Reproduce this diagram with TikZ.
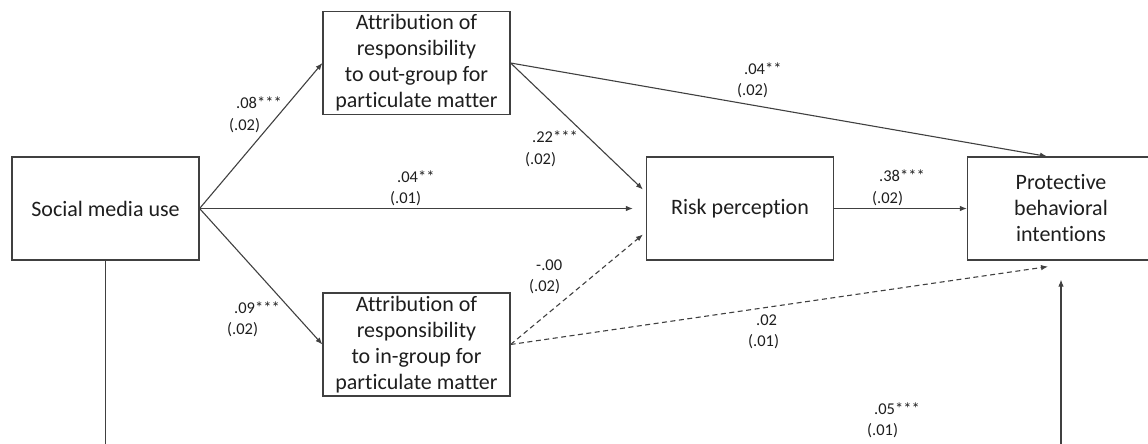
\documentclass[tikz,border=0pt]{standalone}
\usepackage{fontspec}
\setmainfont{Carlito}[Ligatures=NoCommon]
\usepackage{tikz}
\usetikzlibrary{positioning,arrows.meta,calc}
\definecolor{linegray}{HTML}{404040}
\definecolor{textgray}{HTML}{1E1E1E}

\begin{document}
\begin{tikzpicture}[x=1pt, y=-1pt,
  var/.style={draw=linegray, line width=1.2pt, minimum width=187pt, minimum height=103pt,
    inner sep=0pt, align=center, text=textgray, font=\fontsize{22}{26}\selectfont},
  coef/.style={anchor=west, inner sep=0pt, align=left, text=textgray,
    font=\fontsize{16.5}{21.5}\selectfont},
  link/.style={linegray, line width=1.1pt, -{Latex[length=7pt,width=5.5pt]}},
  nslink/.style={link, dash pattern=on 5pt off 3.5pt}]
  \clip (0,0) rectangle (1148,444);

  % variables
  \node[var] (smu) at (105.5,208.5) {Social media use};
  \node[var] (outgrp) at (416.5,63) {Attribution of\\responsibility\\to out-group for\\particulate matter};
  \node[var] (ingrp) at (416.5,344.5) {Attribution of\\responsibility\\to in-group for\\particulate matter};
  \node[var] (risk) at (740,208.5) {Risk perception};
  \node[var] (prot) at (1061,208.5) {Protective\\behavioral\\intentions};

  % paths
  \draw[link] (smu.east) -- (outgrp.west);
  \draw[link] (smu.east) -- (ingrp.west);
  \draw[link, shorten >=13pt] (smu.east) -- (risk.west);
  \draw[link] (outgrp.east) -- ([xshift=-3pt,yshift=19pt]risk.west);
  \draw[link] (outgrp.east) -- ([xshift=-14pt]prot.north);
  \draw[nslink] (ingrp.east) -- ([xshift=-3pt,yshift=-26pt]risk.west);
  \draw[nslink] (ingrp.east) -- ([xshift=-13pt,yshift=-6pt]prot.south);
  \draw[link] (risk.east) -- (prot.west);
  \draw[link] (smu.south) -- ++(0,240) -| ([yshift=-19pt]prot.south);

  % coefficients
  \node[coef] (c1) at (229,115) {\hspace*{7pt}.08***\\(.02)};
  \node[coef] (c2) at (227,319.5) {\hspace*{7pt}.09***\\(.02)};
  \node[coef] (c3) at (390,188.5) {\hspace*{7pt}.04**\\(.01)};
  \node[coef] (c4) at (525,149) {\hspace*{7pt}.22***\\(.02)};
  \node[coef] (c5) at (737,80.5) {\hspace*{7pt}.04**\\(.02)};
  \node[coef] (c6) at (529,277) {\hspace*{7pt}-.00\\(.02)};
  \node[coef] (c7) at (748,332) {\hspace*{8pt}.02\\(.01)};
  \node[coef] (c8) at (872,188) {\hspace*{7pt}.38***\\(.02)};
  \node[coef] (c9) at (867,420.5) {\hspace*{7pt}.05***\\(.01)};
\end{tikzpicture}
\end{document}
